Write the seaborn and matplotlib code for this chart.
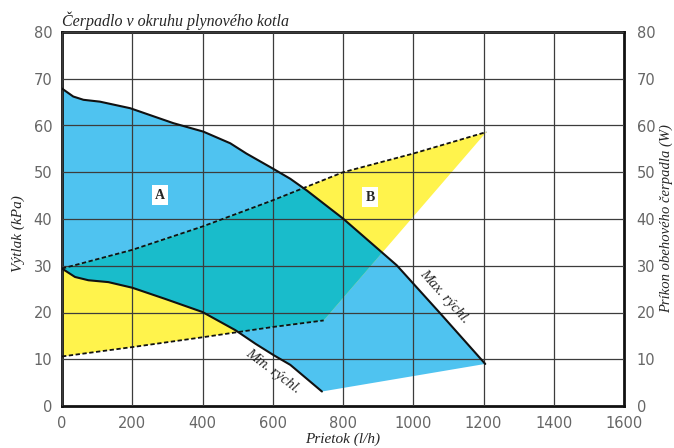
import matplotlib
matplotlib.use("Agg")
import matplotlib.pyplot as plt
import seaborn as sns
import pandas as pd

# Max. speed curve (flow l/h, head kPa)
max_flow = [0, 32, 61, 108, 194, 317, 402, 479, 525, 600, 650, 697, 745, 800, 849, 953, 1077, 1205]
max_head = [67.9, 66.2, 65.5, 65.1, 63.7, 60.5, 58.7, 56.2, 54.0, 50.8, 48.6, 46.1, 43.3, 40.1, 36.9, 30.1, 19.8, 9.0]

# Min. speed curve
min_flow = [0, 37, 75, 132, 200, 294, 400, 494, 551, 602, 650, 740]
min_head = [29.4, 27.6, 26.9, 26.5, 25.3, 22.9, 20.1, 16.2, 13.3, 10.9, 8.8, 3.1]

# Power input band (W), dashed lines
pow_hi_flow = [0, 200, 400, 600, 800, 1000, 1208]
pow_hi = [29.4, 33.4, 38.4, 44.0, 50.0, 54.0, 58.6]
pow_lo_flow = [0, 200, 400, 600, 745]
pow_lo = [10.6, 12.6, 14.7, 16.9, 18.3]

x_ticks = list(range(0, 1601, 200))
y_ticks = list(range(0, 81, 10))

blue = "#4fc3f0"
yellow = "#fff34c"
teal = "#19bccb"
serif = "Liberation Serif"

sns.set_style("white")

fig = plt.figure(figsize=(6.74, 4.48), dpi=100)
ax = fig.add_axes([62 / 674, 42 / 448, 562 / 674, 374 / 448])

# Regions
blue_x = max_flow + min_flow[::-1]
blue_y = max_head + min_head[::-1]
blue_patch = ax.fill(blue_x, blue_y, color=blue, lw=0, zorder=1)[0]

yel_x = pow_hi_flow + pow_lo_flow[::-1]
yel_y = pow_hi + pow_lo[::-1]
ax.fill(yel_x, yel_y, color=yellow, lw=0, zorder=1)
overlap = ax.fill(yel_x, yel_y, color=teal, lw=0, zorder=1.1)[0]
overlap.set_clip_path(blue_patch)

# Curves
df_max = pd.DataFrame({"flow": max_flow, "head": max_head})
df_min = pd.DataFrame({"flow": min_flow, "head": min_head})
sns.lineplot(data=df_max, x="flow", y="head", sort=False, color="#111111", lw=1.5, ax=ax, zorder=4)
sns.lineplot(data=df_min, x="flow", y="head", sort=False, color="#111111", lw=1.5, ax=ax, zorder=4)
ax.plot(pow_hi_flow, pow_hi, color="#111111", lw=1.3, ls=(0, (2.4, 1.4)), zorder=4)
ax.plot(pow_lo_flow, pow_lo, color="#111111", lw=1.3, ls=(0, (2.4, 1.4)), zorder=4)

ax.set_xlim(0, 1600)
ax.set_ylim(0, 80)
ax.set_xticks(x_ticks)
ax.set_yticks(y_ticks)
ax.set_axisbelow(False)
ax.grid(True, color="#3c3c3c", lw=0.9)
for s in ax.spines.values():
    s.set_color("#111111")
    s.set_linewidth(2)
ax.tick_params(length=0, labelsize=10.5, labelcolor="#666666", pad=7)

ax2 = ax.twinx()
ax2.set_ylim(0, 80)
ax2.set_yticks(y_ticks)
ax2.tick_params(length=0, labelsize=10.5, labelcolor="#666666", pad=9)
for s in ax2.spines.values():
    s.set_visible(False)

# Labels
ax.set_xlabel("Prietok (l/h)", family=serif, style="italic", fontsize=11, labelpad=1)
ax.set_ylabel("Výtlak (kPa)", family=serif, style="italic", fontsize=11)
ax.yaxis.set_label_coords(-0.066, 0.46)
ax2.set_ylabel("Príkon obehového čerpadla (W)", family=serif, style="italic", fontsize=10.5, labelpad=3)
ax.set_title("Čerpadlo v okruhu plynového kotla", loc="left", family=serif,
             style="italic", fontsize=11.5, pad=4)

box = dict(facecolor="white", edgecolor="none", pad=2.5)
ax.text(279, 45.1, "A", family=serif, fontweight="bold", fontsize=10,
        ha="center", va="center", bbox=box, zorder=5)
ax.text(877, 44.7, "B", family=serif, fontweight="bold", fontsize=10,
        ha="center", va="center", bbox=box, zorder=5)
ax.text(1090, 23.5, "Max. rýchl.", family=serif, style="italic", fontsize=10.5,
        rotation=-48, rotation_mode="anchor", ha="center", va="center", zorder=5)
ax.text(600, 7.4, "Min. rýchl.", family=serif, style="italic", fontsize=10.5,
        rotation=-37, rotation_mode="anchor", ha="center", va="center", zorder=5)

fig.savefig("out.png", dpi=100)
